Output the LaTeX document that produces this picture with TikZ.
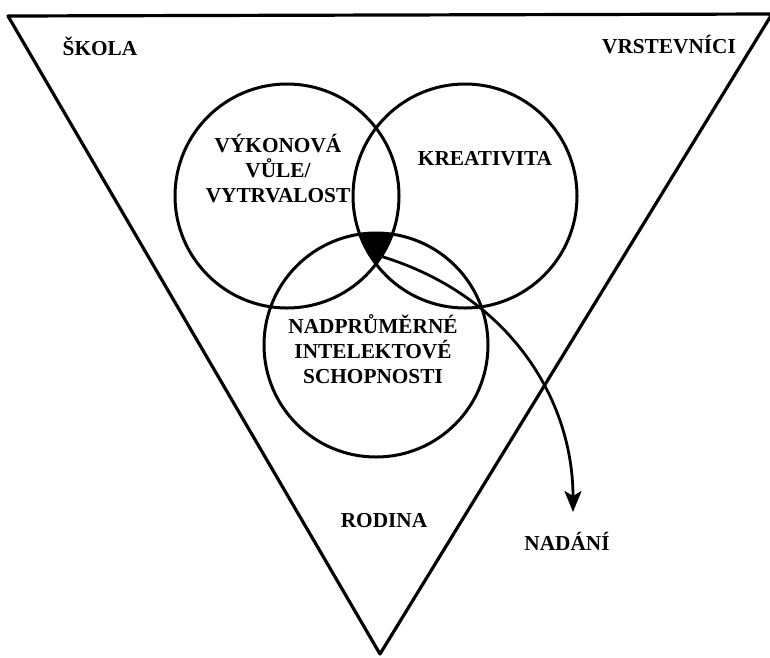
\documentclass[tikz,border=0pt]{standalone}
\usepackage{fontspec}
\setmainfont{Liberation Serif}
\usetikzlibrary{arrows.meta,positioning}

\begin{document}
\begin{tikzpicture}[x=1pt,y=-1pt,
    ring/.style={draw, circle, line width=3pt, minimum size=224pt, inner sep=0pt},
    areatext/.style={font=\fontsize{21.3}{25}\selectfont\bfseries, align=center, inner sep=0pt, anchor=base},
    frame/.style={line width=3.2pt, line join=round, line cap=round}]
    \useasboundingbox (0,0) rectangle (770,657);

    % outer triangle
    \coordinate (tl) at (8,16);
    \coordinate (tr) at (772,14);
    \coordinate (bt) at (380,654);
    \draw[frame] (tl) -- (tr) -- (bt) -- cycle;

    % three circles
    \node[ring] (will) at (287,196) {};
    \node[ring] (creat) at (465,196) {};
    \node[ring] (intel) at (376,345) {};

    % common part of all three
    \begin{scope}
        \clip (will.center) circle[radius=112pt];
        \clip (creat.center) circle[radius=112pt];
        \fill (intel.center) circle[radius=112pt];
    \end{scope}

    % texts
    \node[areatext] (school) at (100,55) {ŠKOLA};
    \node[areatext] (peers) at (669,53) {VRSTEVNÍCI};
    \node[areatext] (willtext) at (278,202) {VÝKONOVÁ\\VŮLE/\\VYTRVALOST};
    \node[areatext] (creattext) at (485,165) {KREATIVITA};
    \node[areatext] (inteltext) at (373,383) {NADPRŮMĚRNÉ\\INTELEKTOVÉ\\SCHOPNOSTI};
    \node[areatext] (family) at (384,527) {RODINA};
    \node[areatext] (gift) at (567,550) {NADÁNÍ};

    % arrow to the gift label
    \coordinate (core) at (380,256);
    \coordinate (tip) at (573,512);
    \draw[line width=2.8pt, -{Stealth[length=21pt,width=17pt,inset=5pt]}]
        (core) .. controls (510,295) and (573,400) .. (tip);
\end{tikzpicture}
\end{document}
